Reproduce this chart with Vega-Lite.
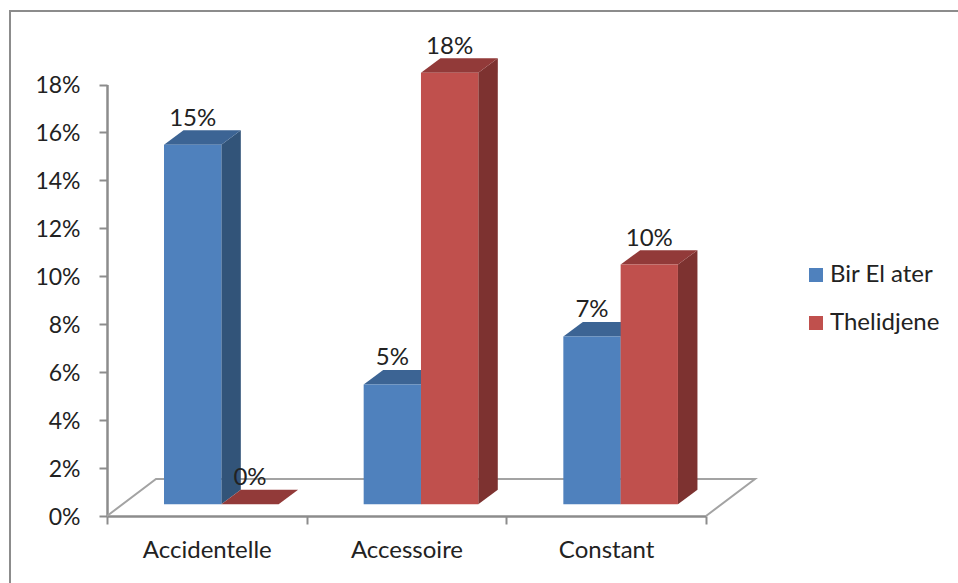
{
  "$schema": "https://vega.github.io/schema/vega-lite/v6.json",
  "width": 952,
  "height": 576,
  "padding": {"left": 10, "top": 11, "right": 0, "bottom": 0},
  "autosize": {"type": "none"},
  "background": "white",
  "config": {
    "font": "Lato",
    "view": {"stroke": "#8c8c8c", "strokeWidth": 2}
  },
  "datasets": {
    "occurrence": [
      {"category": "Accidentelle", "series": "Bir El ater", "value": 15},
      {"category": "Accidentelle", "series": "Thelidjene", "value": 0},
      {"category": "Accessoire", "series": "Bir El ater", "value": 5},
      {"category": "Accessoire", "series": "Thelidjene", "value": 18},
      {"category": "Constant", "series": "Bir El ater", "value": 7},
      {"category": "Constant", "series": "Thelidjene", "value": 10}
    ],
    "floor": [
      {"step": 1, "along": 0, "back": 0},
      {"step": 2, "along": 0, "back": 1},
      {"step": 3, "along": 3, "back": 1},
      {"step": 4, "along": 3, "back": 0}
    ]
  },
  "layer": [
    {
      "data": {"name": "floor"},
      "transform": [
        {"calculate": "datum.along + datum.back * 0.2454", "as": "fx"},
        {"calculate": "datum.back * 1.545", "as": "fy"}
      ],
      "mark": {"type": "line", "stroke": "#a3a3a3", "strokeWidth": 2},
      "encoding": {
        "x": {
          "field": "fx",
          "type": "quantitative",
          "title": null,
          "scale": {"domain": [0, 3], "range": [97, 696], "nice": false, "zero": false},
          "axis": {
            "title": null,
            "orient": "bottom",
            "offset": -71,
            "values": [0, 1, 2, 3],
            "grid": false,
            "labelExpr": "['Accidentelle', 'Accessoire', 'Constant', ''][datum.value]",
            "labelOffset": 99.8,
            "labelFontSize": 24,
            "labelColor": "#222222",
            "labelPadding": 14,
            "labelFlush": false,
            "labelOverlap": false,
            "labelBound": false,
            "tickSize": 8,
            "tickWidth": 2,
            "tickColor": "#8c8c8c",
            "domainWidth": 2.5,
            "domainColor": "#8c8c8c"
          }
        },
        "y": {
          "field": "fy",
          "type": "quantitative",
          "title": null,
          "scale": {"domain": [0, 18], "range": [505, 73.5], "nice": false, "zero": false},
          "axis": {
            "title": null,
            "orient": "left",
            "offset": -97,
            "values": [0, 2, 4, 6, 8, 10, 12, 14, 16, 18],
            "grid": false,
            "labelExpr": "datum.value + '%'",
            "labelFontSize": 23,
            "labelColor": "#222222",
            "labelPadding": 19,
            "labelOffset": 1,
            "labelOverlap": false,
            "labelBound": false,
            "tickSize": 8,
            "tickWidth": 2,
            "tickColor": "#8c8c8c",
            "domainWidth": 2.5,
            "domainColor": "#8c8c8c"
          }
        },
        "order": {"field": "step"}
      }
    },
    {
      "data": {"name": "occurrence"},
      "transform": [
        {"calculate": "indexof(['Accidentelle', 'Accessoire', 'Constant'], datum.category) + 0.5725", "as": "mid"},
        {"calculate": "datum.series === 'Bir El ater' ? datum.mid - 0.287 : datum.mid", "as": "xl"},
        {"calculate": "datum.xl + 0.287", "as": "xr"},
        {"calculate": "datum.value + 0.49", "as": "top"},
        {"calculate": "[0, 1]", "as": "depth"},
        {"flatten": ["depth"]},
        {"calculate": "datum.xr + datum.depth * 0.0977", "as": "sx"},
        {"calculate": "datum.top + datum.depth * 0.6", "as": "sTop"},
        {"calculate": "0.49 + datum.depth * 0.6", "as": "sBase"},
        {"calculate": "datum.category + datum.series", "as": "bar"}
      ],
      "mark": {"type": "area", "orient": "vertical"},
      "encoding": {
        "x": {"field": "sx", "type": "quantitative", "title": null},
        "y": {"field": "sTop", "type": "quantitative", "stack": null, "title": null},
        "y2": {"field": "sBase"},
        "detail": {"field": "bar"},
        "fill": {
          "condition": {"test": "datum.series === 'Thelidjene'", "value": "#7d3230"},
          "value": "#325479"
        }
      }
    },
    {
      "data": {"name": "occurrence"},
      "transform": [
        {"calculate": "indexof(['Accidentelle', 'Accessoire', 'Constant'], datum.category) + 0.5725", "as": "mid"},
        {"calculate": "datum.series === 'Bir El ater' ? datum.mid - 0.287 : datum.mid", "as": "xl"},
        {"calculate": "datum.xl + 0.287", "as": "xr"},
        {"calculate": "datum.value + 0.49", "as": "top"},
        {"calculate": "[0, 1]", "as": "depth"},
        {"flatten": ["depth"]},
        {"calculate": "datum.xl + datum.depth * 0.0977", "as": "tl"},
        {"calculate": "datum.xr + datum.depth * 0.0977", "as": "tr"},
        {"calculate": "datum.top + datum.depth * 0.6", "as": "ty"},
        {"calculate": "datum.category + datum.series", "as": "bar"}
      ],
      "mark": {"type": "area", "orient": "horizontal"},
      "encoding": {
        "x": {"field": "tl", "type": "quantitative", "stack": null, "title": null},
        "x2": {"field": "tr"},
        "y": {"field": "ty", "type": "quantitative", "title": null},
        "detail": {"field": "bar"},
        "fill": {
          "condition": {"test": "datum.series === 'Thelidjene'", "value": "#923a39"},
          "value": "#3c6494"
        }
      }
    },
    {
      "data": {"name": "occurrence"},
      "transform": [
        {"calculate": "indexof(['Accidentelle', 'Accessoire', 'Constant'], datum.category) + 0.5725", "as": "mid"},
        {"calculate": "datum.series === 'Bir El ater' ? datum.mid - 0.287 : datum.mid", "as": "xl"},
        {"calculate": "datum.xl + 0.287", "as": "xr"},
        {"calculate": "datum.value + 0.49", "as": "top"},
        {"calculate": "0.49", "as": "base"}
      ],
      "mark": {"type": "rect"},
      "encoding": {
        "x": {"field": "xl", "type": "quantitative", "title": null},
        "x2": {"field": "xr"},
        "y": {"field": "top", "type": "quantitative", "title": null},
        "y2": {"field": "base"},
        "color": {
          "field": "series",
          "type": "nominal",
          "scale": {"domain": ["Bir El ater", "Thelidjene"], "range": ["#4f81bd", "#c0504d"]},
          "legend": {
            "title": null,
            "orient": "none",
            "legendX": 794,
            "legendY": 252,
            "symbolType": "square",
            "symbolSize": 196,
            "symbolStrokeWidth": 0,
            "labelFontSize": 24,
            "labelColor": "#222222",
            "labelOffset": 2,
            "rowPadding": 24,
            "labelLimit": 200
          }
        }
      }
    },
    {
      "data": {"name": "occurrence"},
      "transform": [
        {"calculate": "indexof(['Accidentelle', 'Accessoire', 'Constant'], datum.category) + 0.5725", "as": "mid"},
        {"calculate": "datum.series === 'Bir El ater' ? datum.mid - 0.1435 : datum.mid + 0.1435", "as": "cx"},
        {"calculate": "datum.value + 0.49", "as": "top"},
        {"calculate": "datum.value + '%'", "as": "label"}
      ],
      "mark": {"type": "text", "dy": -26, "fontSize": 24, "fill": "#222222", "align": "center", "baseline": "middle"},
      "encoding": {
        "x": {"field": "cx", "type": "quantitative", "title": null},
        "y": {"field": "top", "type": "quantitative", "title": null},
        "text": {"field": "label"}
      }
    }
  ]
}
